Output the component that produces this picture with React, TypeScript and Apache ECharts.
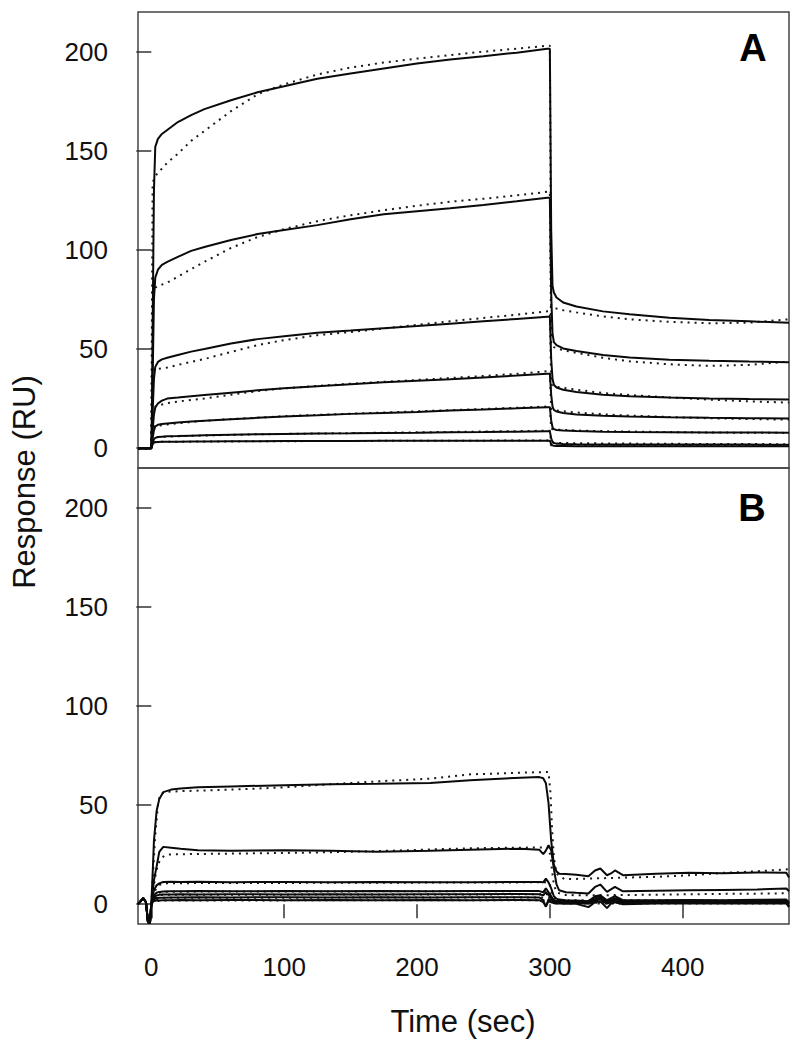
import React, { useEffect, useRef } from "react";
import * as echarts from "echarts";

const FONT = '"Liberation Sans", Arial, Helvetica, sans-serif';

// ---------- Panel A (time grid shared by measured curves and fits) ----------
const tA = [-10, 0, 0.5, 1, 2, 3, 5, 8, 12, 20, 30, 40, 60, 80, 100, 125, 150, 175, 200, 225, 250, 275, 298, 300, 301, 302, 303, 305, 310, 320, 340, 360, 390, 420, 450, 480];

const a1 = [0, 0, 20, 60, 130, 152, 156, 158.5, 160.5, 164.5, 168, 171, 175.5, 179.5, 182.5, 186.3, 189, 191.5, 194, 196, 197.7, 199.5, 201.5, 201.5, 110, 82, 78.5, 76, 73.5, 71.5, 69, 67.5, 65.8, 64.6, 64, 63.2];
const a2 = [0, 0, 10, 35, 75, 86, 90, 92.5, 94, 96.5, 99.5, 101.5, 105, 108, 110, 112.5, 115.5, 118, 119.5, 121, 122.7, 124.5, 126.3, 126.3, 78, 58, 53.5, 52, 50.3, 49, 47, 45.7, 44.6, 44.1, 43.7, 43.4];
const a3 = [0, 0, 5, 18, 35, 41, 43.5, 44.8, 45.6, 47, 48.7, 50, 52.8, 55, 56.5, 58.2, 59.3, 60.5, 61.6, 62.8, 64, 65.2, 66.3, 66.3, 45, 35, 32, 30.6, 29.5, 28.3, 27, 26.2, 25.5, 25.1, 24.8, 24.6];
const a4 = [0, 0, 3, 9, 17, 20.5, 22.5, 24, 25, 25.5, 26.2, 26.8, 28, 29.2, 30.2, 31.2, 32.2, 33.2, 34, 34.8, 35.7, 36.6, 37.5, 37.5, 27, 21, 19.3, 18.5, 17.7, 17, 16.4, 16, 15.6, 15.3, 15.1, 15];
const a5 = [0, 0, 2, 5, 9, 11, 11.8, 12.2, 12.5, 12.9, 13.4, 13.8, 14.6, 15.3, 16, 16.6, 17.3, 17.8, 18.3, 19, 19.5, 20.1, 20.7, 20.7, 14, 10.5, 9.6, 9.2, 8.9, 8.6, 8.3, 8.1, 8, 7.9, 7.9, 7.8];
const a6 = [0, 0, 1, 3, 4.5, 5.2, 5.6, 5.8, 6, 6.1, 6.3, 6.5, 6.8, 7, 7.2, 7.4, 7.5, 7.7, 7.8, 8, 8.1, 8.3, 8.5, 8.5, 5, 3.2, 2.6, 2.3, 2.1, 2, 1.9, 1.9, 1.8, 1.8, 1.8, 1.7];
const a7 = [0, 0, 0.8, 2, 2.8, 3, 3.1, 3.2, 3.3, 3.3, 3.4, 3.4, 3.5, 3.5, 3.6, 3.6, 3.6, 3.7, 3.7, 3.7, 3.8, 3.8, 3.8, 3.8, 2, 1.4, 1.2, 1.1, 1.1, 1, 1, 1, 1, 1, 1, 1];

const fa1 = [0, 0, 70, 134, 135.5, 137, 139, 141, 144, 148.5, 155, 160, 170, 178.5, 183.5, 188.5, 192, 194.5, 196.5, 198.3, 200, 201.5, 203, 203, 72, 71.2, 70.9, 70.4, 69.6, 68.5, 66.4, 65, 63.7, 63, 63.3, 65];
const fa2 = [0, 0, 40, 80, 80.5, 81, 81.8, 82.5, 83.5, 86.5, 90.3, 94, 101, 106.5, 110.5, 114.5, 117.5, 120, 122.3, 124.3, 125.8, 127.5, 129.3, 129.3, 52, 51.4, 51, 50.4, 49.4, 48.1, 45.6, 43.8, 42.3, 41.5, 42, 43.7];
const fa3 = [0, 0, 20, 39.5, 39.7, 39.8, 40, 40.3, 40.7, 42, 43.5, 45, 48.5, 52, 54.5, 57, 58.6, 60.4, 62.2, 64, 65.7, 67.3, 69, 69, 32, 31.6, 31.3, 31, 30.5, 29.5, 27.8, 26.8, 25.6, 24.5, 23.6, 23];
const fa4 = [0, 0, 10, 20.5, 20.8, 21, 21.5, 22, 22.7, 23.5, 24.3, 25, 27, 28.8, 30.2, 31.4, 32.5, 33.5, 34.4, 35.4, 36.4, 37.5, 38.8, 38.8, 19.8, 19.5, 19.3, 19, 18.6, 18, 17.1, 16.4, 15.7, 15.1, 14.7, 14.4];
const fa5 = [0, 0, 5.5, 10.8, 11, 11.1, 11.3, 11.6, 12, 12.6, 13.2, 13.8, 14.7, 15.4, 16.1, 16.8, 17.4, 18, 18.6, 19.2, 19.8, 20.4, 21, 21, 9.8, 9.6, 9.5, 9.4, 9.2, 8.9, 8.6, 8.4, 8.1, 7.9, 7.8, 7.7];
const fa6 = [0, 0, 2.7, 5.3, 5.4, 5.5, 5.6, 5.7, 5.8, 6, 6.2, 6.4, 6.7, 7, 7.2, 7.4, 7.6, 7.8, 8, 8.2, 8.4, 8.6, 8.8, 8.8, 2.9, 2.8, 2.8, 2.7, 2.6, 2.5, 2.4, 2.3, 2.2, 2.1, 2.1, 2];
const fa7 = [0, 0, 1.5, 3, 3, 3.1, 3.1, 3.2, 3.2, 3.3, 3.3, 3.4, 3.4, 3.5, 3.5, 3.6, 3.6, 3.7, 3.7, 3.8, 3.8, 3.9, 3.9, 3.9, 1.4, 1.4, 1.4, 1.4, 1.3, 1.3, 1.3, 1.2, 1.2, 1.2, 1.1, 1.1];

// ---------- Panel B ----------
const tB = [-10, -6, -4, -2.5, -1, 0, 1, 2, 4, 6, 9, 15, 22, 35, 60, 100, 135, 170, 210, 240, 278, 292, 295, 297, 299, 301, 303, 305, 307, 312, 320, 329, 334, 338, 343, 346, 349, 355, 380, 405, 430, 456, 478, 480];

const b1 = [0, 3, 1, -9, -9.5, 0, 15, 32, 47, 53, 56.5, 57.8, 58.3, 59, 59.4, 60, 60.5, 60.7, 61.1, 62.5, 63.8, 64.1, 63.5, 61, 51, 32, 20, 16.5, 15.4, 15.2, 14.8, 14.1, 17, 18, 14.6, 15.5, 17, 14.6, 15.4, 15.8, 15.6, 16, 15.8, 13.5];
const b2 = [0, 3, 1, -9, -9.5, 0, 6, 12, 19, 26.4, 28.9, 28.5, 28, 27.2, 26.9, 27.2, 27, 26.4, 26.9, 27.5, 28, 27.5, 25.2, 27, 29.7, 27.2, 18, 10, 7, 6, 5.7, 5.4, 8.7, 9.9, 6.2, 7.5, 8.7, 6.5, 6.8, 7, 7.2, 7.4, 7.9, 6.5];
const b3 = [0, 3, 1, -9, -9.5, 0, 4, 7, 9.5, 10.5, 11.2, 11.3, 11.2, 11.3, 11.1, 11.2, 11, 11.2, 11, 11.1, 11.2, 11.2, 11, 12.9, 11, 8, 4, 2.8, 2.3, 2, 1.8, 1.5, 4, 4.5, 2, 3, 4, 2, 2, 2.1, 2, 2.2, 2.3, 1];
const b4 = [0, 3, 1, -9, -9.5, 0, 2.5, 4.5, 5.8, 6.2, 6.4, 6.5, 6.5, 6.6, 6.5, 6.6, 6.5, 6.6, 6.5, 6.6, 6.7, 6.6, 6, 8, 6, 4, 2, 1.7, 1.6, 1.6, 1.5, 1.4, 3.5, 4, 1.5, 2.2, 3, 1.5, 1.6, 1.7, 1.6, 1.7, 1.8, 0.5];
const b5 = [0, 3, 1, -9, -9.5, 0, 2, 3.5, 4.4, 4.7, 4.9, 4.9, 5, 4.9, 5, 4.9, 5, 4.9, 5, 5, 5.1, 5, 4.5, 6, 4.8, 3, 1.6, 1.3, 1.2, 1.2, 1.1, 0.8, 2.5, 3.2, 0.9, 1.6, 2.4, 1, 1.2, 1.2, 1.3, 1.2, 1.3, 0];
const b6 = [0, 3, 1, -9, -9.5, 0, 1.5, 2.5, 3, 3.2, 3.3, 3.4, 3.4, 3.5, 3.4, 3.5, 3.4, 3.5, 3.4, 3.5, 3.5, 3.4, 2, -1.3, 2.5, 2, 1, 0.8, 0.8, 0.7, 0.7, 0.2, 1.8, 2.5, 0.3, 1, 1.8, 0.6, 0.8, 0.8, 0.9, 0.8, 0.9, -1];
const b7 = [0, 3, 1, -9, -9.5, 0, 1, 1.6, 1.8, 1.9, 2, 2, 2.1, 2, 2.1, 2, 2.1, 2, 2.1, 2, 2.1, 2, 1, -1, 1.5, 1, 0.5, 0.3, 0.3, 0.2, 0.2, -1.5, 1, 1.5, -2, 0.3, 1, 0, 0.3, 0.3, 0.4, 0.3, 0.4, -1.5];

const tBf = [0, 1, 3, 5, 6.5, 9, 12, 22, 60, 97, 135, 172, 210, 241, 278, 299, 300.5, 301.6, 303, 305, 311, 329, 355, 380, 406, 431, 456, 480];
const fb1 = [0, 12, 35, 50, 55, 56.2, 56.7, 57, 57.8, 58.8, 60.5, 62, 63.3, 65.5, 66.3, 66.7, 55.8, 39, 23.8, 15.4, 12.6, 12.9, 13.4, 13.8, 14.6, 15.8, 16.6, 17.6];
const fb2 = [0, 5, 14, 20, 22, 24, 25, 25.2, 25.5, 25.8, 26.2, 26.8, 27.6, 28.2, 28.5, 28.6, 24, 17, 10, 6, 4.6, 4.5, 4.6, 4.8, 5, 5.2, 5.3, 5.5];
const fb3 = [0, 2.5, 7, 9, 9.8, 10.3, 10.5, 10.6, 10.7, 10.7, 10.8, 10.8, 10.9, 10.9, 11, 11, 9, 6, 3.5, 2.3, 2, 2, 2, 2, 2, 2, 2, 2];
const fb4 = [0, 1.5, 4, 5.5, 6, 6.2, 6.3, 6.3, 6.4, 6.4, 6.4, 6.5, 6.5, 6.5, 6.6, 6.6, 5.2, 3.5, 2.2, 1.6, 1.5, 1.5, 1.5, 1.5, 1.5, 1.5, 1.5, 1.5];
const fb5 = [0, 1.2, 3, 4.2, 4.6, 4.7, 4.8, 4.8, 4.8, 4.8, 4.9, 4.9, 4.9, 4.9, 5, 5, 4, 2.6, 1.6, 1.1, 1, 1, 1, 1, 1, 1, 1, 1];
const fb6 = [0, 0.8, 2, 2.8, 3.1, 3.2, 3.2, 3.3, 3.3, 3.3, 3.3, 3.4, 3.4, 3.4, 3.4, 3.4, 2.7, 1.8, 1.1, 0.8, 0.7, 0.7, 0.7, 0.7, 0.7, 0.7, 0.7, 0.7];
const fb7 = [0, 0.5, 1.2, 1.6, 1.8, 1.8, 1.9, 1.9, 1.9, 1.9, 2, 2, 2, 2, 2, 2, 1.6, 1, 0.6, 0.4, 0.3, 0.3, 0.3, 0.3, 0.3, 0.3, 0.3, 0.3];

const xTicks = [0, 100, 200, 300, 400];
const yTicks = [0, 50, 100, 150, 200];

const pairs = (t: number[], v: number[]) => t.map((x, i) => [x, v[i]]);

export default function App() {
  const ref = useRef<HTMLDivElement>(null);
  useEffect(() => {
    if (!ref.current) return;
    const chart = echarts.init(ref.current, null, { renderer: "svg" });
    const series: any[] = [];
    const fitLine = (data: number[][], gi: number) => ({
      type: "line", xAxisIndex: gi, yAxisIndex: gi, data, showSymbol: false, silent: true,
      lineStyle: { color: "#1a1a1a", width: 2, type: [2, 5] }, z: 2,
    });
    const dataLine = (data: number[][], gi: number) => ({
      type: "line", xAxisIndex: gi, yAxisIndex: gi, data, showSymbol: false, silent: true,
      lineStyle: { color: "#0a0a0a", width: 2 }, z: 3,
    });
    [fa1, fa2, fa3, fa4, fa5, fa6, fa7].forEach((v) => series.push(fitLine(pairs(tA, v), 0)));
    [a1, a2, a3, a4, a5, a6, a7].forEach((v) => series.push(dataLine(pairs(tA, v), 0)));
    [fb1, fb2, fb3, fb4, fb5, fb6, fb7].forEach((v) => series.push(fitLine(pairs(tBf, v), 1)));
    [b1, b2, b3, b4, b5, b6, b7].forEach((v) => series.push(dataLine(pairs(tB, v), 1)));

    const tickStyle = { color: "#333", width: 1.5 };
    const labelStyle = { fontSize: 26, color: "#111", fontFamily: FONT };
    const yAxis = (gi: number) => ({
      type: "value", gridIndex: gi, min: -10, max: 220,
      axisLine: { show: false },
      splitLine: { show: false },
      axisTick: { show: true, inside: false, length: 15, customValues: yTicks, lineStyle: tickStyle },
      axisLabel: { show: true, margin: 30, customValues: yTicks, ...labelStyle },
    });

    chart.setOption({
      animation: false,
      backgroundColor: "#fff",
      grid: [
        { left: 138, top: 12, width: 651, height: 456, show: true, borderColor: "#444", borderWidth: 1.5 },
        { left: 138, top: 468, width: 651, height: 456, show: true, borderColor: "#444", borderWidth: 1.5 },
      ],
      xAxis: [
        { type: "value", gridIndex: 0, min: -10, max: 480, axisLine: { show: false }, axisTick: { show: false }, axisLabel: { show: false }, splitLine: { show: false } },
        {
          type: "value", gridIndex: 1, min: -10, max: 480,
          axisLine: { show: false }, splitLine: { show: false },
          axisTick: { show: true, inside: false, length: 14, customValues: xTicks, lineStyle: tickStyle },
          axisLabel: { show: true, margin: 30, customValues: xTicks, ...labelStyle },
        },
      ],
      yAxis: [yAxis(0), yAxis(1)],
      series,
      graphic: [
        { type: "text", x: 753, y: 48, style: { text: "A", font: `bold 38px ${FONT}`, fill: "#000", textAlign: "center", textVerticalAlign: "middle" } },
        { type: "text", x: 752, y: 508, style: { text: "B", font: `bold 38px ${FONT}`, fill: "#000", textAlign: "center", textVerticalAlign: "middle" } },
        { type: "text", x: 463, y: 1021, style: { text: "Time (sec)", font: `31px ${FONT}`, fill: "#111", textAlign: "center", textVerticalAlign: "middle" } },
        { type: "text", x: 24, y: 482, rotation: Math.PI / 2, style: { text: "Response (RU)", font: `31px ${FONT}`, fill: "#111", textAlign: "center", textVerticalAlign: "middle" } },
      ],
    });
    return () => chart.dispose();
  }, []);
  return <div ref={ref} style={{ position: "absolute", left: 0, top: 0, width: 800, height: 1045 }} />;
}
